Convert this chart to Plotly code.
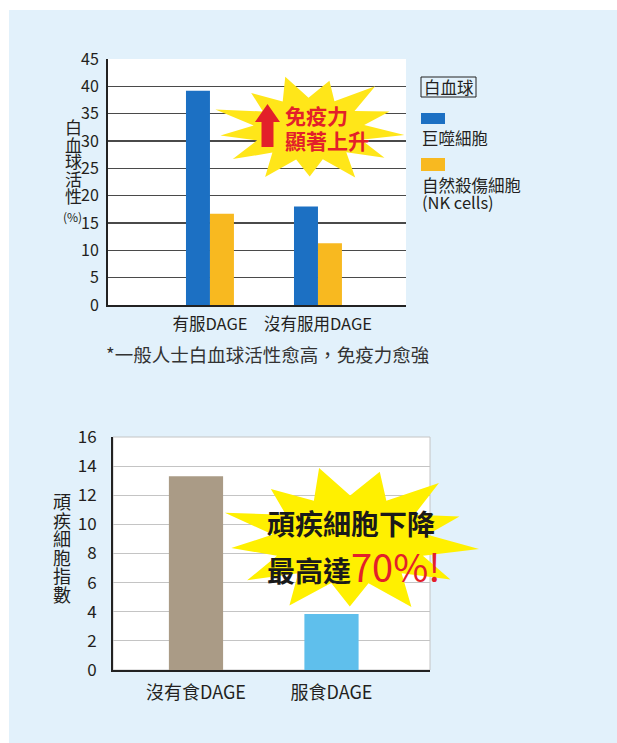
import math
import plotly.graph_objects as go

W, H = 617, 743
FONT = "Noto Sans CJK TC"
TXT = "#231f20"

# ---------------- data ----------------
wbc_categories = ["有服DAGE", "沒有服用DAGE"]
macrophage_values = [39.2, 18.0]
nk_values = [16.7, 11.3]
wbc_series_names = ["巨噬細胞", "自然殺傷細胞 (NK cells)"]

tumor_categories = ["沒有食DAGE", "服食DAGE"]
tumor_values = [13.3, 3.85]

# ---------------- helpers (pixel -> paper) ----------------
def px(x):
    return x / W


def py(y):
    return 1 - y / H


def star_path(cx, cy, rx, ry, n, inner, rot, jit):
    pts = []
    for i in range(2 * n):
        ang = rot + math.pi * i / n
        r = jit[(i // 2) % len(jit)] if i % 2 == 0 else inner
        pts.append((px(cx + rx * r * math.cos(ang)), py(cy + ry * r * math.sin(ang))))
    return "M " + " L ".join(f"{a:.5f},{b:.5f}" for a, b in pts) + " Z"


def poly_path(points):
    return "M " + " L ".join(f"{px(a):.5f},{py(b):.5f}" for a, b in points) + " Z"


BLUE = "#1c70c3"
YELLOW = "#f8b920"
BROWN = "#aa9b86"
LBLUE = "#5fbfec"
PANEL = "#e2f1fb"

fig = go.Figure()

fig.add_trace(go.Bar(x=wbc_categories, y=macrophage_values, name=wbc_series_names[0],
                     marker=dict(color=BLUE, line=dict(width=0)), xaxis="x", yaxis="y"))
fig.add_trace(go.Bar(x=wbc_categories, y=nk_values, name=wbc_series_names[1],
                     marker=dict(color=YELLOW, line=dict(width=0)), xaxis="x", yaxis="y"))
fig.add_trace(go.Bar(x=tumor_categories, y=tumor_values, width=0.4,
                     marker=dict(color=[BROWN, LBLUE], line=dict(width=0)), xaxis="x2", yaxis="y2"))

fig.update_layout(
    width=W, height=H,
    margin=dict(l=0, r=0, t=0, b=0, pad=0, autoexpand=False),
    paper_bgcolor=PANEL,
    plot_bgcolor="white",
    showlegend=False,
    barmode="group",
    bargap=0.556,
    bargroupgap=0,
    font=dict(family=FONT, color=TXT),
    xaxis=dict(domain=[px(108), px(406)], range=[-0.944, 1.815], showgrid=False,
               showline=True, linecolor="#222", linewidth=2, ticks="", automargin=False,
               tickfont=dict(family=FONT, size=16.5, color=TXT), ticklabelstandoff=3,
               fixedrange=True),
    yaxis=dict(domain=[py(305), py(59)], range=[0, 45], dtick=5, showgrid=True,
               gridcolor="#4a4a4a", gridwidth=1.4, showline=True, linecolor="#222",
               linewidth=2, ticks="", tickfont=dict(family=FONT, size=16, color=TXT),
               ticklabelstandoff=4, zeroline=False, fixedrange=True, automargin=False),
    xaxis2=dict(domain=[px(113), px(430)], range=[-0.6125, 1.727], showgrid=False,
                showline=True, linecolor="#222", linewidth=2, ticks="", automargin=False,
                tickfont=dict(family=FONT, size=18, color=TXT), ticklabelstandoff=5,
                anchor="y2", fixedrange=True),
    yaxis2=dict(domain=[py(670), py(437)], range=[0, 16], dtick=2, showgrid=True,
                gridcolor="#c4c4c4", gridwidth=1, showline=True, linecolor="#222",
                linewidth=2, ticks="", tickfont=dict(family=FONT, size=17, color=TXT),
                ticklabelstandoff=11, zeroline=False, anchor="x2", fixedrange=True,
                automargin=False),
)

shapes = []
# white outer margin strips (top/left)
shapes.append(dict(type="rect", xref="paper", yref="paper", x0=0, x1=1, y0=py(10), y1=1,
                   fillcolor="white", line=dict(width=0), layer="below"))
shapes.append(dict(type="rect", xref="paper", yref="paper", x0=0, x1=px(9), y0=0, y1=1,
                   fillcolor="white", line=dict(width=0), layer="below"))
# light frame for lower chart
shapes.append(dict(type="rect", xref="paper", yref="paper", x0=px(113), x1=px(430),
                   y0=py(670), y1=py(437), line=dict(color="#c4c4c4", width=1),
                   fillcolor="rgba(0,0,0,0)", layer="below"))

# starbursts
jit1 = [1.0, 0.92, 1.05, 0.9, 1.0, 0.95, 1.02, 0.88, 1.0, 0.97, 0.93, 1.04, 0.9]
shapes.append(dict(type="path", xref="paper", yref="paper",
                   path=star_path(309, 129, 96, 54, 13, 0.58, -math.pi / 2 - 0.25, jit1),
                   fillcolor="#ffe619", line=dict(width=0), layer="above"))
jit2 = [1.0, 0.95, 1.03, 0.9, 1.0, 0.94, 1.02, 0.9, 1.0, 0.96, 0.92, 1.03, 0.92]
shapes.append(dict(type="path", xref="paper", yref="paper",
                   path=star_path(350, 540, 130, 74, 13, 0.6, -math.pi / 2 - 0.24, jit2),
                   fillcolor="#fff000", line=dict(width=0), layer="above"))
# red arrow
shapes.append(dict(type="path", xref="paper", yref="paper",
                   path=poly_path([(267.5, 104), (255, 122), (261.5, 122), (261.5, 147),
                                   (273.5, 147), (273.5, 122), (280, 122)]),
                   fillcolor="#e3202a", line=dict(width=0), layer="above"))

# legend
shapes.append(dict(type="rect", xref="paper", yref="paper", x0=px(421), x1=px(476),
                   y0=py(97), y1=py(77), line=dict(color="#222", width=1),
                   fillcolor="rgba(0,0,0,0)"))
shapes.append(dict(type="rect", xref="paper", yref="paper", x0=px(421), x1=px(445),
                   y0=py(124), y1=py(113), line=dict(width=0), fillcolor=BLUE))
shapes.append(dict(type="rect", xref="paper", yref="paper", x0=px(421), x1=px(445),
                   y0=py(171), y1=py(158), line=dict(width=0), fillcolor=YELLOW))
fig.update_layout(shapes=shapes)

ann = []


def text(x, y, s, size, color=TXT, xanchor="left", bold=False):
    ann.append(dict(xref="paper", yref="paper", x=px(x), y=py(y), text=(f"<b>{s}</b>" if bold else s),
                    showarrow=False, xanchor=xanchor, yanchor="middle",
                    font=dict(family=FONT, size=size, color=color)))


text(448.5, 87, "白血球", 16.5, xanchor="center")
text(420, 138, "巨噬細胞", 16.5)
text(420, 185, "自然殺傷細胞", 16.5)
text(420, 202, "(NK cells)", 16.5)

# vertical y-axis titles (one character per line, tightly stacked as in the original)
for i, ch in enumerate("白血球活性"):
    text(73, 127 + 17 * i, ch, 17, xanchor="center")
text(72, 216, "(%)", 12, xanchor="center")
for i, ch in enumerate("頑疾細胞指數"):
    text(62, 501 + 18.5 * i, ch, 18, xanchor="center")

# star texts
text(283, 115, "免疫力", 21, color="#e3202a", bold=True)
text(283, 140, "顯著上升", 21, color="#e3202a", bold=True)
text(265, 523, "頑疾細胞下降", 28, color="#1a1a1a", bold=True)
ann.append(dict(xref="paper", yref="paper", x=px(265), y=py(565),
                text="<b>最高達</b><span style='color:#e3202a;font-size:38px'>70%!</span>",
                showarrow=False, xanchor="left", yanchor="middle",
                font=dict(family=FONT, size=28, color="#1a1a1a")))

# footnote
text(104, 354, "*一般人士白血球活性愈高，免疫力愈強", 18.5, color="#333333")

fig.update_layout(annotations=ann)

fig.write_html("out.html", config={"displayModeBar": False, "staticPlot": True},
               post_script="document.body.style.margin='0';document.body.style.overflow='hidden';")
